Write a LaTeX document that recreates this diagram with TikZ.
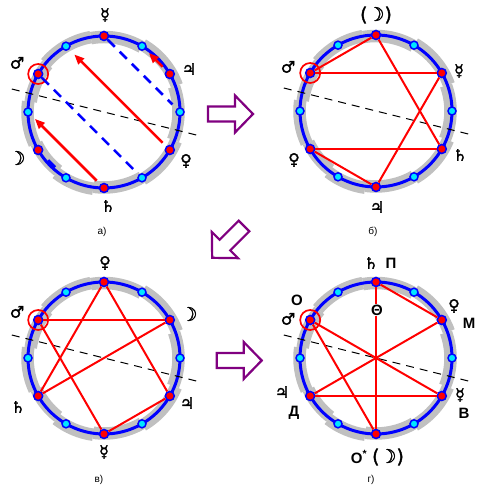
\documentclass[tikz,border=0pt]{standalone}
\usepackage{fontspec}
\setmainfont{Liberation Sans}
\newfontfamily\astrofont[FakeBold=1.6]{DejaVu Sans}
\usetikzlibrary{arrows.meta, calc}
\definecolor{ringblue}{RGB}{0,0,255}
\definecolor{dotred}{RGB}{255,0,0}
\definecolor{dotcyan}{RGB}{0,230,255}
\definecolor{bandgray}{RGB}{192,192,192}
\definecolor{turnviolet}{RGB}{128,0,128}
\tikzset{
  band/.style     = {line width=12.5pt, bandgray},
  ring/.style     = {line width=3pt, ringblue},
  axisline/.style = {black, line width=1pt, dash pattern=on 8pt off 6pt},
  reddot/.style   = {circle, fill=dotred, draw=ringblue, line width=1.5pt, minimum size=9pt, inner sep=0pt},
  cyandot/.style  = {circle, fill=dotcyan, draw=ringblue, line width=1.5pt, minimum size=8pt, inner sep=0pt},
  marsmark/.style = {circle, draw=dotred, line width=1.7pt, minimum size=20pt, inner sep=0pt},
  chord/.style    = {dotred, line width=2pt},
  move/.style     = {-{Triangle[length=10pt,width=8pt]}, dotred, line width=2.5pt, shorten <=5pt, shorten >=5pt},
  mirror/.style   = {ringblue, line width=2.5pt, dash pattern=on 10pt off 7pt},
  sym/.style      = {font=\astrofont\fontsize{16}{16}\selectfont, inner sep=0pt},
  moon/.style     = {font=\astrofont\fontsize{19}{19}\selectfont, inner sep=0pt},
  letter/.style   = {font=\fontsize{15}{15}\selectfont\bfseries, inner sep=0pt},
  caption/.style  = {font=\fontsize{10}{10}\selectfont, inner sep=0pt},
  turn/.style     = {turnviolet, line width=2.2pt, line join=miter},
  pics/turnarrow/.style = {code={
    \draw[turn] (0,7.5) -- (27,7.5) -- (27,18.5) -- (45,0) -- (27,-18.5) -- (27,-7.5) -- (0,-7.5) -- cycle;
  }},
}

% кольцо из 12 точек: нечётные -- красные, чётные -- голубые
\newcommand{\zodiacring}[1]{%
  \foreach \s/\e/\o in {100/140/0, 140/172/-2, 172/205/0.5, 205/232/-1.5, 232/262/1.5,
                        262/300/-0.5, 300/338/1.5, 338/380/-1.5, 380/420/1.5, 420/460/-1}{
    \draw[band] ([shift={(\s:{76+\o})}]#1c) arc[start angle=\s, end angle=\e, radius={76+\o}];
  }
  \draw[ring] (#1c) circle[radius=76];
  \draw[axisline] ([shift={(166:95)}]#1c) -- ([shift={(-14:96)}]#1c);
  \foreach \k in {1,...,12}{
    \pgfmathsetmacro{\ang}{120-30*\k}
    \ifodd\k
      \node[reddot] (#1\k) at ([shift={(\ang:76)}]#1c) {};
    \else
      \node[cyandot] (#1\k) at ([shift={(\ang:76)}]#1c) {};
    \fi
  }
  \node[marsmark] (#1mars) at (#111) {};
}

\begin{document}
\begin{tikzpicture}[x=1pt, y=1pt]

\fill[white] (0,0) rectangle (485,494);
\useasboundingbox (0,0) rectangle (485,494);

\coordinate (ac) at (104,382);
\coordinate (bc) at (376,383);
\coordinate (cc) at (104,136);
\coordinate (dc) at (376,136);

% ===================== а) =====================
\zodiacring{a}

\draw[move] (a7) -- (a10);
\draw[move, shorten >=7pt] (a5) -- (a12);
\draw[move] (a3) -- (a2);

\draw[mirror, shorten >=6pt] (a11) -- (a6);
\draw[mirror, shorten >=6pt] (a1) -- (a4);
\draw[mirror, shorten <=9pt, shorten >=8pt] (a9) -- (a8);

\node[sym]  (aMe) at (105,479) {☿};
\node[sym]  (aMa) at (17,431)  {♂};
\node[sym]  (aJu) at (189,425) {♃};
\node[sym]  (aVe) at (186,333) {♀};
\node[moon] (aMo) at (17,336)  {☽};
\node[sym]  (aSa) at (108,288) {♄};
\node[caption] (acap) at (102,262) {а)};

% ===================== б) =====================
\zodiacring{b}

\draw[chord] (b11) -- (b1);
\draw[chord] (b11) -- (b3);
\draw[chord] (b1)  -- (b5);
\draw[chord] (b3)  -- (b7);
\draw[chord] (b9)  -- (b5);
\draw[chord] (b9)  -- (b7);

\node[moon] (bMo) at (376,479) {(☽)};
\node[sym]  (bMa) at (288,427) {♂};
\node[sym]  (bMe) at (459,423) {☿};
\node[sym]  (bSa) at (460,339) {♄};
\node[sym]  (bVe) at (294,334) {♀};
\node[sym]  (bJu) at (377,287) {♃};
\node[caption] (bcap) at (373,262) {б)};

% ===================== в) =====================
\zodiacring{c}

\draw[chord] (c11) -- (c3);
\draw[chord] (c11) -- (c7);
\draw[chord] (c1)  -- (c9);
\draw[chord] (c1)  -- (c5);
\draw[chord] (c3)  -- (c9);
\draw[chord] (c5)  -- (c7);

\node[sym]  (cVe) at (105,231) {♀};
\node[sym]  (cMa) at (17,182)  {♂};
\node[moon] (cMo) at (189,180) {☽};
\node[sym]  (cSa) at (18,87)   {♄};
\node[sym]  (cJu) at (187,91)  {♃};
\node[sym]  (cMe) at (104,42)  {☿};
\node[caption] (ccap) at (99,14) {в)};

% ===================== г) =====================
\zodiacring{d}

\draw[chord] (d1)  -- (d7);
\draw[chord] (d1)  -- (d3);
\draw[chord] (d11) -- (d5);
\draw[chord] (d11) -- (d7);
\draw[chord] (d3)  -- (d9);
\draw[chord] (d9)  -- (d5);

\node[letter, fill=white, inner sep=1pt] (dth) at (377,184) {Θ};

\node[sym]    (dSa) at (371,231) {♄};
\node[letter] (dP)  at (391,231) {П};
\node[letter] (dO)  at (297,194) {О};
\node[sym]    (dMa) at (288,175) {♂};
\node[sym]    (dVe) at (454,188) {♀};
\node[letter] (dM)  at (469,171) {М};
\node[sym]    (dJu) at (282,102) {♃};
\node[letter] (dD)  at (294,81)  {Д};
\node[sym]    (dMe) at (460,99)  {☿};
\node[letter] (dV)  at (464,81)  {В};
\node[letter] (dOs) at (359,37)  {О\textsuperscript{*}};
\node[moon]   (dMo) at (388,37)  {(☽)};
\node[caption] (dcap) at (371,14) {г)};

% ===================== переходы =====================
\pic at (208,380) {turnarrow};
\pic[rotate=225] at (244,268) {turnarrow};
\pic at (216.7,133.5) {turnarrow};

\end{tikzpicture}
\end{document}
